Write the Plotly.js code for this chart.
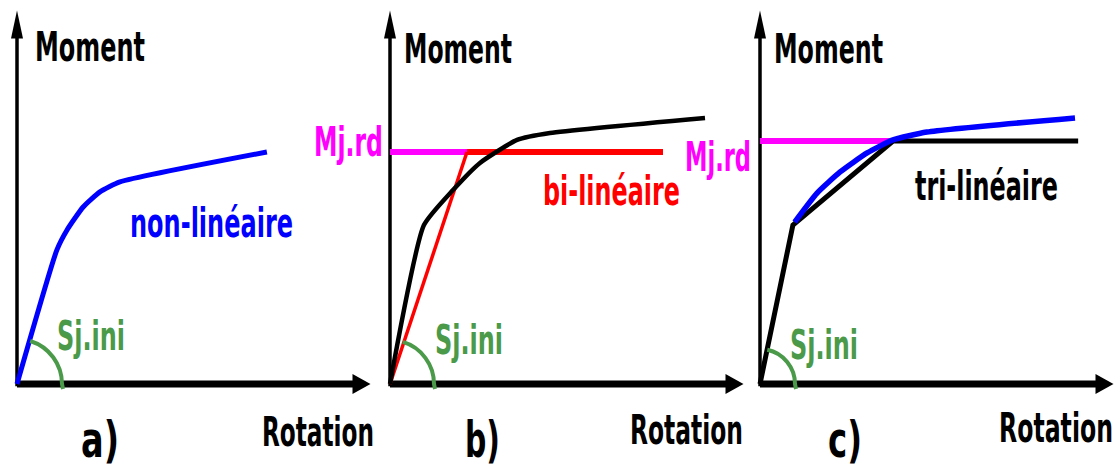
<!DOCTYPE html>
<html>
<head>
<meta charset="utf-8">
<script src="https://cdn.plot.ly/plotly-3.0.1.min.js"></script>
<style>html,body{margin:0;padding:0;background:#fff;}#chart{width:1120px;height:472px;}</style>
</head>
<body>
<div id="chart"></div>
<script>
// ---- data (rotation units, moment units; Mj.rd level of panel b = 100) ----
const rotA    = [0, 11.4, 14.3, 18.9, 23.7, 29.4, 71.4];
const momentA = [0, 57.8, 66.4, 76.3, 82.8, 87.1, 100];

const rotBCurve    = [0, 9.7, 18.0, 25.7, 36.3, 45.7, 90];
const momentBCurve = [0, 68.5, 83.6, 95.3, 105.2, 108.2, 114.7];
const rotBBilin    = [0, 22, 78];
const momentBBilin = [0, 100, 100];
const rotBMjrd     = [0, 22];
const momentBMjrd  = [100, 100];

const rotCTrilin    = [0, 9.4, 38, 90.9];
const momentCTrilin = [0, 68.5, 104.7, 104.7];
const rotCCurve     = [9.9, 16.3, 22.9, 30.6, 38, 47.7, 90];
const momentCCurve  = [69.8, 82.3, 91.4, 99.6, 105.2, 108.6, 114.7];
const rotCMjrd      = [0, 38];
const momentCMjrd   = [104.7, 104.7];

const axisRotEnd = 101;     // end of rotation axis
const axisMomEnd = 161;     // end of moment axis

// ---- geometry ----
const W = 1120, H = 472;
const PXX = 3.5, PXY = 2.32;   // pixels per unit
const ORIGIN_Y = 384;
const originsX = [17, 390, 760];
const xr = o => [-o / PXX, (W - o) / PXX];
const yr = [-(H - ORIGIN_Y) / PXY, ORIGIN_Y / PXY];

const FONT = '"DejaVu Sans", sans-serif';
const BLUE = '#0000ff', RED = '#ff0000', MAG = '#ff00ff', GREEN = '#4a9a4a', BLACK = '#000000';

function line(x, y, xa, color, width, smooth) {
  return {x: x, y: y, xaxis: xa, yaxis: 'y', type: 'scatter', mode: 'lines',
    line: smooth ? {color: color, width: width, shape: 'spline', smoothing: 0.5} : {color: color, width: width},
    hoverinfo: 'skip', showlegend: false};
}

const traces = [
  line(rotA, momentA, 'x', BLUE, 5, true),
  line(rotBMjrd, momentBMjrd, 'x2', MAG, 6),
  line(rotBBilin.slice(0, 2), momentBBilin.slice(0, 2), 'x2', RED, 3.5),
  line(rotBBilin.slice(1), momentBBilin.slice(1), 'x2', RED, 6),
  line(rotBCurve, momentBCurve, 'x2', BLACK, 4.5, true),
  line(rotCMjrd, momentCMjrd, 'x3', MAG, 6),
  line(rotCTrilin, momentCTrilin, 'x3', BLACK, 5),
  line(rotCCurve, momentCCurve, 'x3', BLUE, 5.5, true)
];

// axes drawn as shapes with arrow heads
const shapes = [];
const axRefs = ['x', 'x2', 'x3'];
function arcPath(r, deg) {
  const a = deg * Math.PI / 180;
  const k = 4 / 3 * Math.tan(a / 4) * r;
  const p3x = r * Math.cos(a), p3y = r * Math.sin(a);
  const p2x = p3x + k * Math.sin(a), p2y = p3y - k * Math.cos(a);
  return `M${r + 1},-5 L${r},0 C${r},${k} ${p2x},${p2y} ${p3x},${p3y}`;
}
const arcs = [[45, 73], [44, 73], [35, 78]];
axRefs.forEach((xa, i) => {
  shapes.push({type: 'line', xref: xa, yref: 'y', x0: 0, y0: 0, x1: axisRotEnd - 3, y1: 0,
    line: {color: BLACK, width: 7}, layer: 'below'});
  shapes.push({type: 'line', xref: xa, yref: 'y', x0: 0, y0: -1, x1: 0, y1: axisMomEnd - 6,
    line: {color: BLACK, width: 3.5}, layer: 'below'});
  shapes.push({type: 'path', xref: xa, yref: 'y', xsizemode: 'pixel', ysizemode: 'pixel',
    xanchor: axisRotEnd, yanchor: 0, path: 'M0,0 L-18,10 L-18,-10 Z',
    fillcolor: BLACK, line: {width: 0}, layer: 'below'});
  shapes.push({type: 'path', xref: xa, yref: 'y', xsizemode: 'pixel', ysizemode: 'pixel',
    xanchor: 0, yanchor: axisMomEnd, path: 'M0,0 L-6,-28 L6,-28 Z',
    fillcolor: BLACK, line: {width: 0}, layer: 'below'});
  shapes.push({type: 'path', xref: xa, yref: 'y', xsizemode: 'pixel', ysizemode: 'pixel',
    xanchor: 0, yanchor: 0, path: arcPath(arcs[i][0], arcs[i][1]),
    line: {color: GREEN, width: 4}, layer: 'above'});
});

// text labels: [axis, x centre, y centre, colour, size, drawn width in px]
const labelTexts = ['Moment', 'Moment', 'Moment', 'Rotation', 'Rotation', 'Rotation',
  'a)', 'b)', 'c)', 'non-linéaire', 'Sj.ini', 'Sj.ini', 'Sj.ini', 'Mj.rd', 'Mj.rd',
  'bi-linéaire', 'tri-linéaire'];
const labelSpec = [
  ['x', 20.86, 145.3, BLACK, 40, 110],
  ['x2', 19.43, 144.5, BLACK, 40, 108],
  ['x3', 19.43, 144.5, BLACK, 40, 109],
  ['x', 85.86, -20.7, BLACK, 40, 112],
  ['x2', 84.71, -19.8, BLACK, 40, 113],
  ['x3', 84.43, -19.0, BLACK, 40, 114],
  ['x', 23.71, -24.0, BLACK, 50, 38],
  ['x2', 26.29, -24.0, BLACK, 50, 35],
  ['x3', 24.29, -24.0, BLACK, 50, 34],
  ['x', 55.57, 69.4, BLUE, 40, 163],
  ['x', 21.14, 20.7, GREEN, 40, 68],
  ['x2', 22.57, 19.0, GREEN, 40, 68],
  ['x3', 18.29, 16.8, GREEN, 40, 68],
  ['x2', -12.0, 104.3, MAG, 40, 69],
  ['x2', 93.71, 97.8, MAG, 40, 66],
  ['x2', 63.29, 83.2, RED, 40, 137],
  ['x3', 64.71, 85.3, BLACK, 40, 143]
];
const annotations = labelTexts.map((t, i) => {
  const s = labelSpec[i];
  return {text: t, xref: s[0], yref: 'y', x: s[1], y: s[2], showarrow: false,
    xanchor: 'center', yanchor: 'middle', align: 'center', width: s[5] + 2, borderpad: 0,
    font: {family: FONT, size: s[4], color: s[3], weight: 'bold'}};
});

const hidden = {visible: false, fixedrange: true};
const layout = {
  width: W, height: H,
  margin: {l: 0, r: 0, t: 0, b: 0, pad: 0},
  paper_bgcolor: '#ffffff', plot_bgcolor: '#ffffff',
  showlegend: false,
  xaxis:  Object.assign({range: xr(originsX[0]), domain: [0, 1]}, hidden),
  xaxis2: Object.assign({range: xr(originsX[1]), overlaying: 'x', anchor: 'y'}, hidden),
  xaxis3: Object.assign({range: xr(originsX[2]), overlaying: 'x', anchor: 'y'}, hidden),
  yaxis:  Object.assign({range: yr}, hidden),
  shapes: shapes,
  annotations: annotations
};

Plotly.newPlot('chart', traces, layout, {staticPlot: true, displayModeBar: false}).then(gd => {
  // condense the lettering horizontally, as in the reference drawing
  gd.querySelectorAll('g.annotation').forEach(g => {
    const i = +g.getAttribute('data-index');
    const t = g.querySelector('text.annotation-text');
    if (t && labelSpec[i]) {
      t.setAttribute('textLength', labelSpec[i][5]);
      t.setAttribute('lengthAdjust', 'spacingAndGlyphs');
    }
  });
});
</script>
</body>
</html>
